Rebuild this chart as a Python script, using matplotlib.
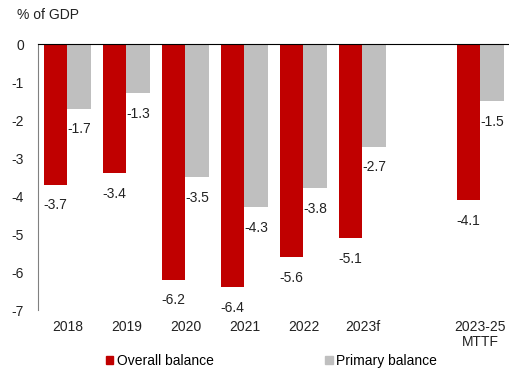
import matplotlib.pyplot as plt
import numpy as np
from matplotlib.patches import Patch

plt.rcParams['font.family'] = ['Liberation Sans', 'DejaVu Sans']

categories = ['2018', '2019', '2020', '2021', '2022', '2023f', '', '2023-25\nMTTF']
overall = [-3.7, -3.4, -6.2, -6.4, -5.6, -5.1, None, -4.1]
primary = [-1.7, -1.3, -3.5, -4.3, -3.8, -2.7, None, -1.5]

red = '#C00000'
grey = '#BFBFBF'
txt = '#222222'
fs = 10

fig = plt.figure(figsize=(5.1, 3.74), dpi=100)
ax = fig.add_axes([38 / 510, 1 - 310 / 374, 1 - 38 / 510, (310 - 44) / 374])

x = np.arange(len(categories))
w = 0.4
for i, (o, p) in enumerate(zip(overall, primary)):
    if o is None:
        continue
    ax.bar(x[i] - w / 2, o, w, color=red, zorder=2)
    ax.bar(x[i] + w / 2, p, w, color=grey, zorder=2)
    ax.annotate(f'{o:.1f}', (x[i] - w / 2, o), xytext=(0, -10), textcoords='offset points',
                ha='center', va='top', fontsize=fs, color=txt)
    ax.annotate(f'{p:.1f}', (x[i] + w / 2, p), xytext=(0, -10), textcoords='offset points',
                ha='center', va='top', fontsize=fs, color=txt)

ax.set_xlim(-0.5, len(categories) - 0.5)
ax.set_ylim(-7, 0)
ax.set_yticks(range(-7, 1))
ax.set_yticklabels([str(v) for v in range(-7, 1)], fontsize=fs)
ax.set_xticks(x)
ax.set_xticklabels(categories, fontsize=fs, va='top', linespacing=1.1)
ax.tick_params(axis='both', length=0, colors=txt)
ax.tick_params(axis='y', pad=10)
ax.tick_params(axis='x', pad=7)

for s in ['right', 'bottom']:
    ax.spines[s].set_visible(False)
ax.spines['left'].set_color('#808080')
ax.spines['top'].set_color('black')

fig.text(17 / 510, 1 - 15 / 374, '% of GDP', fontsize=fs, va='center', color=txt)

handles = [Patch(color=red, label='Overall balance'), Patch(color=grey, label='Primary balance')]
fig.legend(handles=handles, loc='center', bbox_to_anchor=(0.532, 1 - 361 / 374), ncol=2,
           frameon=False, fontsize=fs, handlelength=0.55, handleheight=0.55,
           handletextpad=0.25, columnspacing=8.0, borderaxespad=0, borderpad=0)

fig.savefig('out.png', dpi=100)
